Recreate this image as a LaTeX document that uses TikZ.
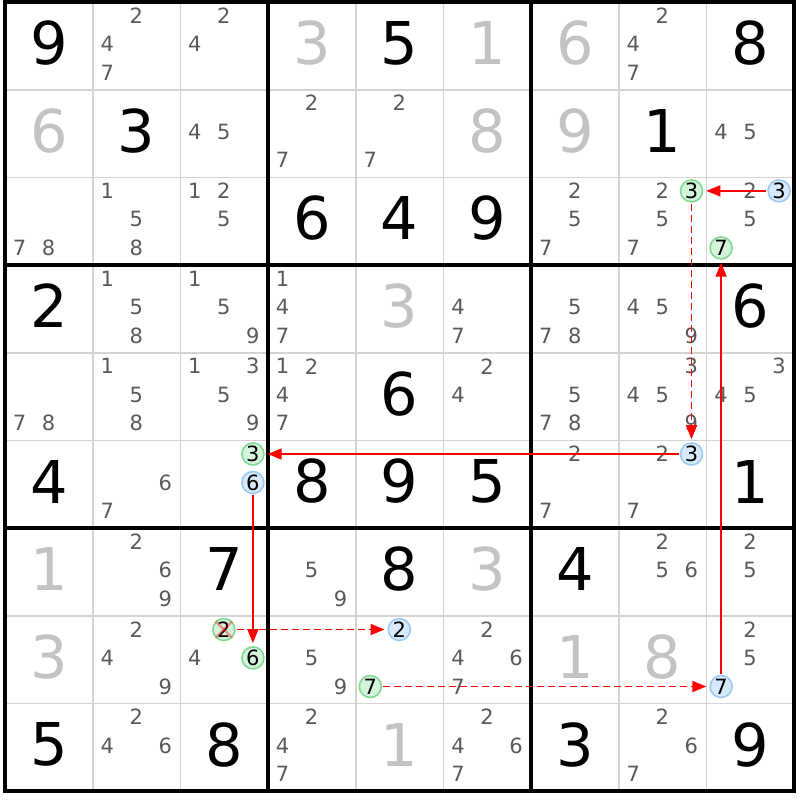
\documentclass[tikz,border=0pt]{standalone}
\usepackage{fontspec}
\setmainfont{DejaVu Sans}
\usetikzlibrary{arrows.meta}
\definecolor{candc}{HTML}{5A5A5A}
\definecolor{solvedc}{HTML}{C3C3C3}
\definecolor{thinc}{HTML}{D4D4D4}
\definecolor{bluef}{HTML}{D8E9FB}
\definecolor{blueb}{HTML}{9CC9F4}
\definecolor{greenf}{HTML}{D4F4DB}
\definecolor{greenb}{HTML}{82D992}
\definecolor{chainred}{HTML}{FF0000}
\begin{document}
\begin{tikzpicture}[x=1pt,y=-1pt,
  thinline/.style={draw=thinc, line width=1.6pt},
  thickline/.style={draw=black, line width=3.8pt},
  big/.style={font=\fontsize{59}{59}\selectfont, inner sep=0pt},
  given/.style={big, text=black},
  solved/.style={big, text=solvedc},
  cand/.style={font=\fontsize{21}{21}\selectfont, inner sep=0pt, text=candc},
  circ/.style={circle, minimum size=22pt, inner sep=0pt, line width=1.6pt, text=black,
    font=\fontsize{21}{21}\selectfont},
  bluec/.style={circ, draw=blueb, fill=bluef},
  greenc/.style={circ, draw=greenb, fill=greenf},
  link/.style={draw=chainred, line width=1.6pt, shorten >=3pt, shorten <=1pt,
    -{Triangle[length=14pt,width=11pt]}},
  weaklink/.style={link, line width=1.8pt, dash pattern=on 7pt off 4pt},
  strike/.style={draw=red, opacity=0.35, line width=2.4pt}
]
\fill[white] (0,0) rectangle (800,800);
\useasboundingbox (0,0) rectangle (800,800);

% thin grid lines
\foreach \i in {1,2,4,5,7,8} {
  \draw[thinline] ({5+\i*87.7},2) -- ({5+\i*87.7},791.3);
  \draw[thinline] (5,{2+\i*87.7}) -- (794.3,{2+\i*87.7});
}
% thick grid lines
\foreach \i in {0,3,6,9} {
  \draw[thickline] ({5+\i*87.7},0.1) -- ({5+\i*87.7},793.2);
  \draw[thickline] (3.1,{2+\i*87.7}) -- (796.2,{2+\i*87.7});
}

% given digits
\foreach \r/\c/\d in {1/1/9, 1/5/5, 1/9/8, 2/2/3, 2/8/1, 3/4/6, 3/5/4, 3/6/9,
  4/1/2, 4/9/6, 5/5/6, 6/1/4, 6/4/8, 6/5/9, 6/6/5, 6/9/1, 7/3/7, 7/5/8, 7/7/4,
  9/1/5, 9/3/8, 9/7/3, 9/9/9}
  \node[given] (g\r\c) at ({5+(\c-0.5)*87.7},{2+(\r-1)*87.7+41}) {\d};

% solved digits
\foreach \r/\c/\d in {1/4/3, 1/6/1, 1/7/6, 2/1/6, 2/6/8, 2/7/9, 4/5/3, 7/1/1,
  7/6/3, 8/1/3, 8/7/1, 8/8/8, 9/5/1}
  \node[solved] (s\r\c) at ({5+(\c-0.5)*87.7},{2+(\r-1)*87.7+41}) {\d};

% candidates
\foreach \r/\c/\L in {1/2/{2,4,7}, 1/3/{2,4}, 1/8/{2,4,7},
  2/3/{4,5}, 2/4/{2,7}, 2/5/{2,7}, 2/9/{4,5},
  3/1/{7,8}, 3/2/{1,5,8}, 3/3/{1,2,5}, 3/7/{2,5,7}, 3/8/{2,5,7}, 3/9/{2,5},
  4/2/{1,5,8}, 4/3/{1,5,9}, 4/4/{1,4,7}, 4/6/{4,7}, 4/7/{5,7,8}, 4/8/{4,5,9},
  5/1/{7,8}, 5/2/{1,5,8}, 5/3/{1,3,5,9}, 5/4/{1,2,4,7}, 5/6/{2,4}, 5/7/{5,7,8},
  5/8/{3,4,5,9}, 5/9/{3,4,5},
  6/2/{6,7}, 6/7/{2,7}, 6/8/{2,7},
  7/2/{2,6,9}, 7/4/{5,9}, 7/8/{2,5,6}, 7/9/{2,5},
  8/2/{2,4,9}, 8/3/{4}, 8/4/{5,9}, 8/6/{2,4,6,7}, 8/9/{2,5},
  9/2/{2,4,6}, 9/4/{2,4,7}, 9/6/{2,4,6,7}, 9/8/{2,6,7}}
  {\foreach \n in \L
    {\node[cand] (k\r\c\n) at ({5+(\c-1)*87.7+14.5+29*mod(\n-1,3)},{2+(\r-1)*87.7+13.5+28.5*div(\n-1,3)}) {\n};}}

% positions of the circled candidates
\path (779.1,190.9) coordinate (pA) (691.5,190.9) coordinate (pB)
      (691.5,454) coordinate (pC) (252.9,454) coordinate (pD)
      (252.9,482.5) coordinate (pE) (252.9,657.9) coordinate (pF)
      (223.9,629.5) coordinate (pG) (399.3,629.5) coordinate (pH)
      (370.3,686.5) coordinate (pI) (721.1,686.5) coordinate (pJ)
      (721.1,247.9) coordinate (pK);

% circled candidates
\node[bluec]  (A) at (pA) {3};
\node[greenc] (B) at (pB) {3};
\node[bluec]  (C) at (pC) {3};
\node[greenc] (D) at (pD) {3};
\node[bluec]  (E) at (pE) {6};
\node[greenc] (F) at (pF) {6};
\node[greenc] (G) at (pG) {2};
\node[bluec]  (H) at (pH) {2};
\node[greenc] (I) at (pI) {7};
\node[bluec]  (J) at (pJ) {7};
\node[greenc] (K) at (pK) {7};

\draw[strike] ([shift={(-8,-8)}]G.center) -- ([shift={(8,8)}]G.center);
\draw[strike] ([shift={(-8,8)}]G.center) -- ([shift={(8,-8)}]G.center);

\draw[link] (A) -- (B);
\draw[weaklink] (B) -- (C);
\draw[link] (C) -- (D);
\draw[link] (E) -- (F);
\draw[weaklink] (G) -- (H);
\draw[weaklink] (I) -- (J);
\draw[link] (J) -- (K);
\end{tikzpicture}
\end{document}
